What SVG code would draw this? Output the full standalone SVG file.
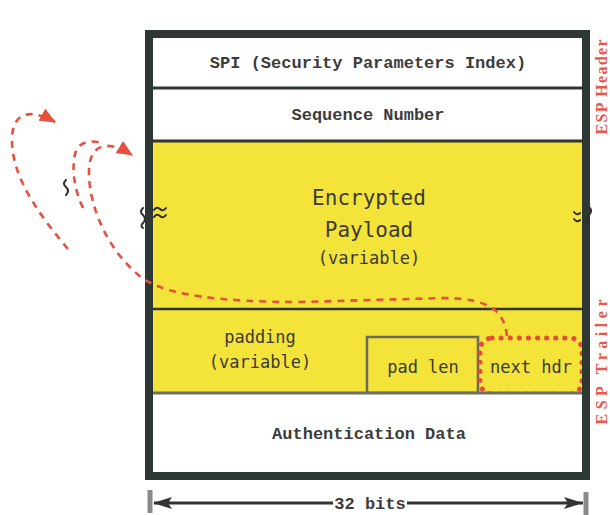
<svg xmlns="http://www.w3.org/2000/svg" width="610" height="515" viewBox="0 0 610 515">
<defs>
<style>
.mono{font-family:"DejaVu Sans Mono","Liberation Mono",monospace;fill:#3a3a36;text-anchor:middle}
.bold{font-family:"Liberation Mono","DejaVu Sans Mono",monospace;font-weight:bold;fill:#3c3c3c;text-anchor:middle;font-size:17px}
.side{font-family:"Liberation Serif",serif;font-weight:bold;fill:#e8584a;font-size:16px;text-anchor:middle}
.red{fill:none;stroke:#e5503f;stroke-width:2.6;stroke-dasharray:7 6}
.brk{fill:none;stroke:#2e2e2e;stroke-width:2;stroke-linecap:round}
</style>
<marker id="rh" markerUnits="userSpaceOnUse" markerWidth="18" markerHeight="16" refX="15" refY="7" orient="auto">
<path d="M0,0 L16,7 L0,14 z" fill="#e5503f"/>
</marker>
<marker id="bl" markerUnits="userSpaceOnUse" markerWidth="20" markerHeight="14" refX="1" refY="6" orient="auto">
<path d="M0,6 L19,0 L15,6 L19,12 z" fill="#2e3430"/>
</marker>
<marker id="br" markerUnits="userSpaceOnUse" markerWidth="20" markerHeight="14" refX="19" refY="6" orient="auto">
<path d="M19,6 L0,0 L4,6 L0,12 z" fill="#2e3430"/>
</marker>
</defs>
<rect width="610" height="515" fill="#ffffff"/>

<g id="spi">
<rect x="153" y="38" width="429" height="50" fill="#ffffff"/>
<text class="bold" x="368" y="68">SPI (Security Parameters Index)</text>
</g>
<g id="seq">
<rect x="153" y="88" width="429" height="53" fill="#ffffff"/>
<text class="bold" x="368" y="120">Sequence Number</text>
</g>
<g id="payload">
<rect x="153" y="141" width="429" height="168" fill="#f4e338"/>
<text class="mono" x="369" y="205" font-size="21">Encrypted</text>
<text class="mono" x="369" y="237" font-size="21">Payload</text>
<text class="mono" x="369" y="264" font-size="17">(variable)</text>
</g>
<g id="padding">
<rect x="153" y="309" width="429" height="84" fill="#f4e338"/>
<text class="mono" x="260" y="343" font-size="17">padding</text>
<text class="mono" x="260" y="368" font-size="17">(variable)</text>
</g>
<g id="padlen">
<rect x="367" y="337" width="111" height="56" fill="#f4e338" stroke="#6b6b5c" stroke-width="2.5"/>
<text class="mono" x="423" y="373" font-size="17">pad len</text>
</g>
<g id="nexthdr">
<text class="mono" x="531" y="373" font-size="17">next hdr</text>
<rect x="480" y="338" width="102" height="56" rx="12" fill="none" stroke="#e84a3c" stroke-width="5" stroke-linecap="round" stroke-dasharray="0.1 9"/>
</g>
<g id="auth">
<rect x="153" y="393" width="429" height="79" fill="#ffffff"/>
<text class="bold" x="369" y="439">Authentication Data</text>
</g>

<g id="frame">
<line x1="153" y1="88" x2="582" y2="88" stroke="#2f3733" stroke-width="3"/>
<line x1="153" y1="141" x2="582" y2="141" stroke="#2f3733" stroke-width="3"/>
<line x1="153" y1="309" x2="582" y2="309" stroke="#333" stroke-width="2.5"/>
<line x1="153" y1="393" x2="582" y2="393" stroke="#6e6e62" stroke-width="3"/>
<rect x="149" y="34" width="437" height="442" fill="none" stroke="#2d3733" stroke-width="8"/>
</g>

<g id="breaks">
<path class="brk" d="M154,210 q3,-4 6,-1 q3,3 6,-1 M154,217 q3,-4 6,-1 q3,3 6,-1"/>
<path class="brk" d="M143,208 q-4,4 0,7 q4,4 0,8 q-3,3 0,5"/>
<path class="brk" d="M574,212 q3,4 6,1 M574,219 q3,4 6,1"/>
<path class="brk" d="M589,207 q4,4 0,8 q-4,4 0,8"/>
<path class="brk" d="M66,180 q-4,4 0,7 q4,4 0,8"/>
</g>

<g id="connectors">
<path class="red" d="M68,249 C35,210 12,175 12,140 C12,112 30,108 55,122" marker-end="url(#rh)"/>
<path class="red" d="M83,208 C72,185 72,162 76,151 C80,141 92,140 102,143"/>
<path class="red" d="M507,336 C504,312 492,299 445,298 L300,302 C220,302 170,295 145,280 C110,255 90,210 89,175 C88,145 105,138 132,155" marker-end="url(#rh)"/>
<line x1="150" y1="490" x2="150" y2="513" stroke="#8a8a86" stroke-width="5"/>
<line x1="586" y1="492" x2="586" y2="515" stroke="#8a8a86" stroke-width="5"/>
<line x1="154" y1="503" x2="583" y2="503" stroke="#2e3430" stroke-width="3" marker-start="url(#bl)" marker-end="url(#br)"/>
<rect x="333" y="494" width="74" height="18" fill="#ffffff"/>
<text class="bold" x="370" y="509" font-size="16">32 bits</text>
</g>

<g id="labels">
<text class="side" transform="translate(607,87) rotate(-90)" textLength="95">ESP Header</text>
<text class="side" transform="translate(607,362) rotate(-90)" textLength="125">ESP Trailer</text>
</g>
</svg>
